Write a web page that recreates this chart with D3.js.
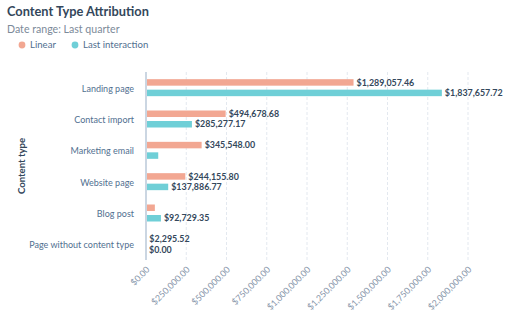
<!DOCTYPE html>
<html>
<head>
<meta charset="utf-8">
<script src="https://cdn.jsdelivr.net/npm/d3@7"></script>
<style>
  body { margin: 0; background: #fff; font-family: Lato, "Open Sans", sans-serif; }
</style>
</head>
<body>
<div id="app"></div>
<script>

// Data
const categories = ['Landing page', 'Contact import', 'Marketing email', 'Website page', 'Blog post', 'Page without content type']
const series = ['Linear', 'Last interaction']
const linear = [1289057.46, 494678.68, 345548.00, 244155.80, 55000, 2295.52]
const lastInteraction = [1837657.72, 285277.17, 76000, 137886.77, 92729.35, 0]
// labels that the reference does not show (they overlap)
const hiddenLabels = ['Marketing email|Last interaction', 'Blog post|Linear']
const ticks = [0, 250000, 500000, 750000, 1000000, 1250000, 1500000, 1750000, 2000000]

const width = 512
const height = 324
const margin = { top: 72, left: 146, right: 44, bottom: 64 }
const colors = { 'Linear': '#f2a792', 'Last interaction': '#6fcfd7' }

const fmt = d3.format('$,.2f')

const svg = d3.select('#app').append('svg')
  .attr('width', width)
  .attr('height', height)

// Title, subtitle, legend
svg.append('text')
  .attr('x', 7).attr('y', 16)
  .attr('font-size', 12.8).attr('font-weight', 700)
  .attr('fill', '#33475b')
  .text('Content Type Attribution')

svg.append('text')
  .attr('x', 7).attr('y', 32.5)
  .attr('font-size', 10.6).attr('fill', '#7c8a99')
  .text('Date range: Last quarter')

const legend = svg.append('g').selectAll('g').data(series).join('g')
  .attr('transform', (d, i) => `translate(${[22, 75][i]}, 45)`)
legend.append('circle').attr('r', 3.4).attr('fill', d => colors[d])
legend.append('text')
  .attr('x', 8).attr('dy', '0.35em').attr('font-size', 9.6).attr('fill', '#516f90')
  .text(d => d)

// Scales
const x = d3.scaleLinear()
  .domain([0, 2000000])
  .range([margin.left, width - margin.right])

const y = d3.scaleBand()
  .domain(categories)
  .range([margin.top, height - margin.bottom])

const inner = d3.scaleBand()
  .domain(series)
  .range([-8.5, 8.5])
  .paddingInner(0.38)

// Grid
svg.append('g')
  .selectAll('line').data(ticks.slice(1)).join('line')
  .attr('x1', d => x(d)).attr('x2', d => x(d))
  .attr('y1', margin.top).attr('y2', height - margin.bottom)
  .attr('stroke', '#e3e8ef')
  .attr('stroke-dasharray', '3,2')

// X axis tick labels (rotated)
svg.append('g')
  .selectAll('text').data(ticks).join('text')
  .attr('transform', d => `translate(${x(d) + 2}, ${height - margin.bottom + 8}) rotate(-45)`)
  .attr('text-anchor', 'end')
  .attr('dy', '0.35em')
  .attr('font-size', 8.8)
  .attr('fill', '#8796aa')
  .text(d => fmt(d))

// Y axis labels
svg.append('g')
  .selectAll('text').data(categories).join('text')
  .attr('x', margin.left - 12)
  .attr('y', d => y(d) + y.bandwidth() / 2 + 1)
  .attr('dy', '0.35em')
  .attr('text-anchor', 'end')
  .attr('font-size', 9)
  .attr('fill', '#516f90')
  .text(d => d)

svg.append('text')
  .attr('transform', `translate(22, ${(margin.top + height - margin.bottom) / 2}) rotate(-90)`)
  .attr('text-anchor', 'middle')
  .attr('dy', '0.35em')
  .attr('font-size', 9.6)
  .attr('font-weight', 700)
  .attr('fill', '#33475b')
  .text('Content type')

// Bars
const rows = categories.flatMap((c, i) => [
  { category: c, series: 'Linear', value: linear[i] },
  { category: c, series: 'Last interaction', value: lastInteraction[i] },
])

const barY = d => y(d.category) + y.bandwidth() / 2 + inner(d.series)

svg.append('g')
  .selectAll('rect').data(rows).join('rect')
  .attr('x', x(0))
  .attr('y', barY)
  .attr('width', d => x(d.value) - x(0))
  .attr('height', inner.bandwidth())
  .attr('fill', d => colors[d.series])

svg.append('g')
  .selectAll('text').data(rows.filter(d => !hiddenLabels.includes(`${d.category}|${d.series}`))).join('text')
  .attr('x', d => x(d.value) + 3)
  .attr('y', d => barY(d) + inner.bandwidth() / 2)
  .attr('dy', '0.35em')
  .attr('font-size', 8.9)
  .attr('font-weight', 700)
  .attr('fill', '#33475b')
  .text(d => fmt(d.value))

// Axis line
svg.append('line')
  .attr('x1', x(0)).attr('x2', x(0))
  .attr('y1', margin.top).attr('y2', height - margin.bottom)
  .attr('stroke', '#cbd6e2')
  .attr('stroke-width', 2)

</script>
</body>
</html>
